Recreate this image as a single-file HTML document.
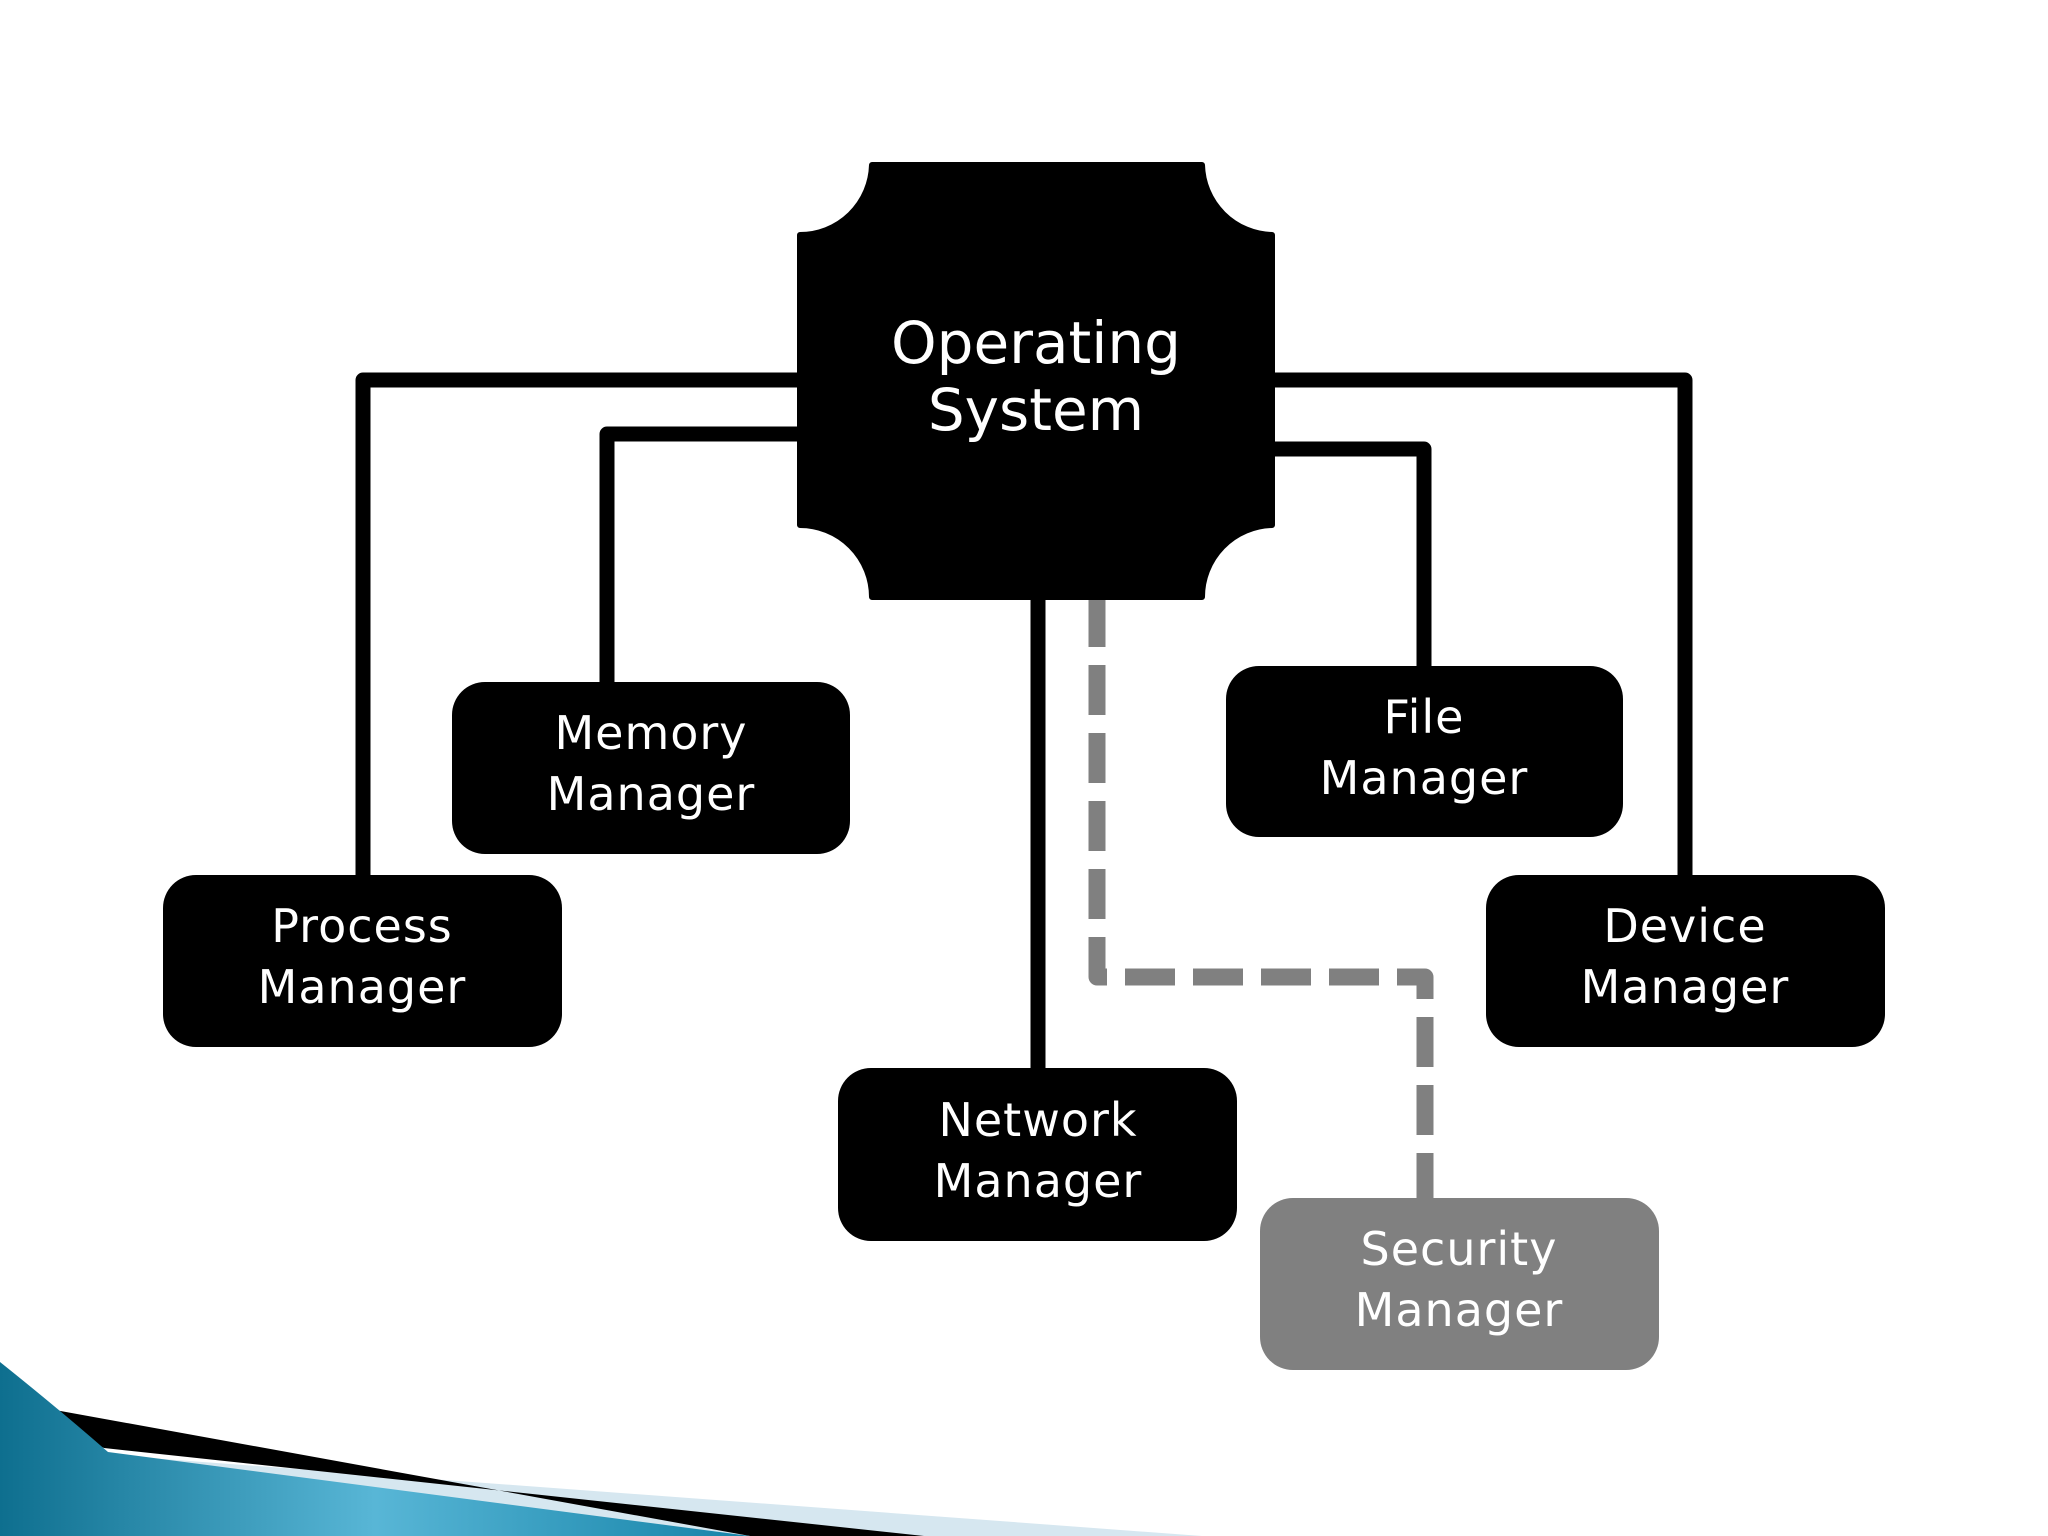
<!DOCTYPE html>
<html><head><meta charset="utf-8"><style>
html,body{margin:0;padding:0;background:#fff}
svg{display:block}
text{font-family:"DejaVu Sans","Liberation Sans",sans-serif;fill:#fff;text-anchor:middle}
</style></head><body>
<svg width="2048" height="1536" viewBox="0 0 2048 1536" xmlns="http://www.w3.org/2000/svg">
<defs>
<linearGradient id="bl" x1="0" y1="0" x2="1" y2="0">
<stop offset="0" stop-color="#0e6f8f"/><stop offset="0.5" stop-color="#58b6d6"/><stop offset="1" stop-color="#1583a8"/>
</linearGradient>
</defs>
<!-- bottom-left decoration -->
<polygon points="108,1455 1202,1536 0,1536" fill="#d6e7f0"/>
<polygon points="104,1448 924,1536 750,1536 0,1400" fill="#000"/>
<path d="M0,1362 Q60,1410 108,1452 L750,1536 L0,1536 Z" fill="url(#bl)"/>

<!-- connectors -->
<g fill="none" stroke="#000" stroke-width="15" stroke-linejoin="round">
<polyline points="805,380 363,380 363,880"/>
<polyline points="805,434 607,434 607,685"/>
<polyline points="1265,380 1685,380 1685,880"/>
<polyline points="1265,449 1424,449 1424,670"/>
<line x1="1038" y1="590" x2="1038" y2="1070"/>
</g>
<polyline points="1097,597 1097,977 1425,977 1425,1200" fill="none" stroke="#808080" stroke-width="17" stroke-dasharray="50 18" stroke-linejoin="round"/>

<!-- OS node -->
<path d="M872,165 L1202,165 A72,72 0 0 0 1272,235 L1272,525 A72,72 0 0 0 1202,597 L872,597 A72,72 0 0 0 800,525 L800,235 A72,72 0 0 0 872,165 Z" fill="#000" stroke="#000" stroke-width="6" stroke-linejoin="round"/>
<text x="1036" y="363" font-size="58">Operating</text>
<text x="1036" y="430" font-size="58">System</text>

<!-- nodes -->
<g fill="#000">
<rect x="163" y="875" width="399" height="172" rx="33"/>
<rect x="452" y="682" width="398" height="172" rx="33"/>
<rect x="838" y="1068" width="399" height="173" rx="33"/>
<rect x="1226" y="666" width="397" height="171" rx="33"/>
<rect x="1486" y="875" width="399" height="172" rx="33"/>
</g>
<rect x="1260" y="1198" width="399" height="172" rx="33" fill="#808080"/>

<g font-size="46" letter-spacing="1">
<text x="362" y="942">Process</text><text x="362" y="1003">Manager</text>
<text x="651" y="749">Memory</text><text x="651" y="810">Manager</text>
<text x="1038" y="1136">Network</text><text x="1038" y="1197">Manager</text>
<text x="1424" y="733">File</text><text x="1424" y="794">Manager</text>
<text x="1685" y="942">Device</text><text x="1685" y="1003">Manager</text>
<text x="1459" y="1265">Security</text><text x="1459" y="1326">Manager</text>
</g>
</svg>
</body></html>
